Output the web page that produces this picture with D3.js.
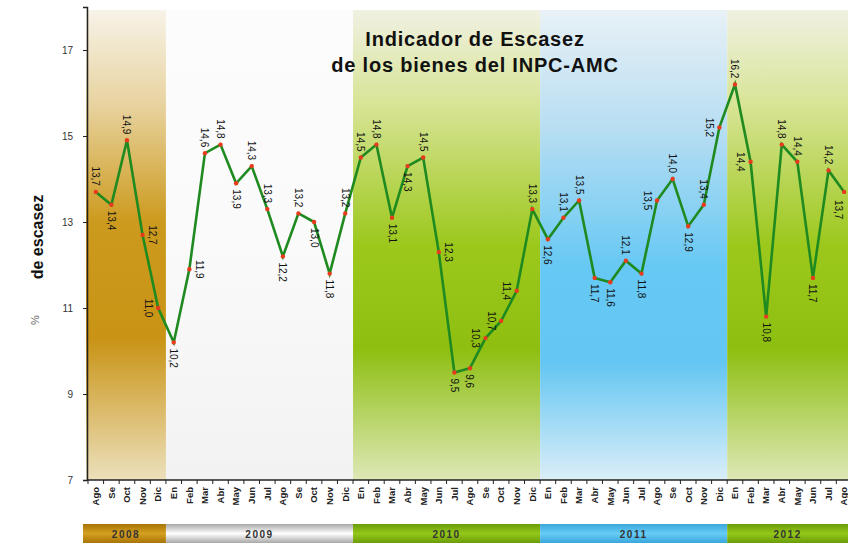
<!DOCTYPE html>
<html>
<head>
<meta charset="utf-8">
<script src="https://cdn.jsdelivr.net/npm/d3@7"></script>
<style>
  body { margin: 0; background: #fff; }
</style>
</head>
<body>
<div id="main"></div>
<script>
// months shown on the axis (Ago 2008 .. Ago 2012)
var months = ["Ago","Se","Oct","Nov","Dic",
  "En","Feb","Mar","Abr","May","Jun","Jul","Ago","Se","Oct","Nov","Dic",
  "En","Feb","Mar","Abr","May","Jun","Jul","Ago","Se","Oct","Nov","Dic",
  "En","Feb","Mar","Abr","May","Jun","Jul","Ago","Se","Oct","Nov","Dic",
  "En","Feb","Mar","Abr","May","Jun","Jul","Ago"];
var monthYear = [2008,2008,2008,2008,2008,
  2009,2009,2009,2009,2009,2009,2009,2009,2009,2009,2009,2009,
  2010,2010,2010,2010,2010,2010,2010,2010,2010,2010,2010,2010,
  2011,2011,2011,2011,2011,2011,2011,2011,2011,2011,2011,2011,
  2012,2012,2012,2012,2012,2012,2012,2012];
var escasez = [13.7,13.4,14.9,12.7,11.0,
  10.2,11.9,14.6,14.8,13.9,14.3,13.3,12.2,13.2,13.0,11.8,13.2,
  14.5,14.8,13.1,14.3,14.5,12.3,9.5,9.6,10.3,10.7,11.4,13.3,
  12.6,13.1,13.5,11.7,11.6,12.1,11.8,13.5,14.0,12.9,13.4,15.2,
  16.2,14.4,10.8,14.8,14.4,11.7,14.2,13.7];
// where each value label sits: a above, b below, l left, r right, B below-left
var labelPos = ["a","b","a","r","l",
  "b","r","a","a","b","a","a","b","a","b","b","a",
  "a","a","b","b","a","r","b","b","l","l","l","a",
  "b","a","a","b","b","a","b","l","a","b","a","l",
  "a","l","b","a","a","b","a","B"];
var years = [2008,2009,2010,2011,2012];
var yTicks = [7,9,11,13,15,17];

var W = 848, H = 548;
var svg = d3.select("#main").append("svg")
  .attr("width", W).attr("height", H)
  .attr("font-family", "Liberation Sans, Arial, sans-serif");

var keys = months.map(function(m, i){ return m + " " + monthYear[i]; });
var x = d3.scaleBand().domain(keys).range([88, 88 + 49 * 15.59]);
var y = d3.scaleLinear().domain([7, 18]).range([480, 7]);
var cx = function(i){ return x(keys[i]) + x.bandwidth() / 2; };

// year colours
var yearCol = {
  2008: [["0","#f7f3e8"],["0.2","#e8d3a0"],["0.45","#cc9a1e"],["0.7","#c99416"],["1","#ece0bc"]],
  2009: [["0","#fcfcfc"],["0.5","#fafafa"],["1","#f2f2f2"]],
  2010: [["0","#f0f1e2"],["0.2","#d8e496"],["0.5","#9cc81c"],["0.72","#8ebf10"],["1","#dde8b6"]],
  2011: [["0","#e8f1f6"],["0.25","#b8def2"],["0.55","#66c8f4"],["0.75","#64c6f2"],["1","#dbeef8"]],
  2012: [["0","#f0f1e2"],["0.2","#d8e496"],["0.5","#9cc81c"],["0.72","#8ebf10"],["1","#dde8b6"]]
};
var bandCol = {
  2008: ["#a87406","#d4a020","#a87406"],
  2009: ["#a8a8a8","#ffffff","#a8a8a8"],
  2010: ["#6a9c08","#94c81a","#6a9c08"],
  2011: ["#3aa6da","#66ccf6","#3aa6da"],
  2012: ["#6a9c08","#94c81a","#6a9c08"]
};
var defs = svg.append("defs");
years.forEach(function(yr){
  var g = defs.append("linearGradient").attr("id", "bg" + yr)
    .attr("x1", 0).attr("y1", 0).attr("x2", 0).attr("y2", 1);
  yearCol[yr].forEach(function(s){
    g.append("stop").attr("offset", s[0]).attr("stop-color", s[1]);
  });
  var b = defs.append("linearGradient").attr("id", "band" + yr)
    .attr("x1", 0).attr("y1", 0).attr("x2", 0).attr("y2", 1);
  b.append("stop").attr("offset", 0).attr("stop-color", bandCol[yr][0]);
  b.append("stop").attr("offset", 0.5).attr("stop-color", bandCol[yr][1]);
  b.append("stop").attr("offset", 1).attr("stop-color", bandCol[yr][2]);
});

function yearStart(yr){
  var i = monthYear.indexOf(yr);
  return i === 0 ? 86 : x(keys[i]);
}
function yearEnd(yr){
  var i = monthYear.lastIndexOf(yr);
  return i === keys.length - 1 ? W : x(keys[i]) + x.bandwidth();
}

// plot backgrounds
svg.selectAll("rect.bg").data(years).enter().append("rect")
  .attr("class", "bg")
  .attr("x", function(d){ return yearStart(d); })
  .attr("y", 10)
  .attr("width", function(d){ return yearEnd(d) - yearStart(d); })
  .attr("height", 470)
  .attr("fill", function(d){ return "url(#bg" + d + ")"; });

// year strip at the bottom
svg.selectAll("rect.band").data(years).enter().append("rect")
  .attr("class", "band")
  .attr("x", function(d){ return d === 2008 ? 83 : yearStart(d); })
  .attr("y", 524)
  .attr("width", function(d){ return yearEnd(d) - (d === 2008 ? 83 : yearStart(d)); })
  .attr("height", 19)
  .attr("fill", function(d){ return "url(#band" + d + ")"; });
svg.selectAll("text.year").data(years).enter().append("text")
  .attr("class", "year")
  .attr("x", function(d){ return (Math.max(yearStart(d), 83) + yearEnd(d)) / 2; })
  .attr("y", 537.5)
  .attr("text-anchor", "middle")
  .attr("font-size", "10px")
  .attr("font-weight", "bold")
  .attr("letter-spacing", "1.5px")
  .attr("fill", "#333")
  .text(function(d){ return d; });

// y axis
var yAxis = svg.append("g").attr("transform", "translate(87,0)")
  .call(d3.axisLeft(y).tickValues(yTicks).tickSize(4).tickPadding(10)
    .tickFormat(d3.format("d")));
yAxis.select(".domain").attr("stroke", "#222").attr("stroke-width", 1.5);
yAxis.selectAll(".tick line").attr("stroke", "#222");
yAxis.selectAll(".tick text").attr("font-size", "10px").attr("fill", "#333")
  .attr("font-family", "Liberation Sans Narrow, Liberation Sans, sans-serif");

// x axis (ticks between months)
var xg = svg.append("g").attr("transform", "translate(0,480)");
xg.append("line").attr("x1", 87).attr("x2", W).attr("stroke", "#222").attr("stroke-width", 1.5);
xg.selectAll("line.tk").data(keys).enter().append("line")
  .attr("class", "tk")
  .attr("x1", function(d){ return x(d); }).attr("x2", function(d){ return x(d); })
  .attr("y1", 0).attr("y2", 4).attr("stroke", "#222");
xg.selectAll("text").data(keys).enter().append("text")
  .attr("transform", function(d){ return "translate(" + (x(d) + x.bandwidth() / 2) + ",7) rotate(-90)"; })
  .attr("dy", "0.35em")
  .attr("text-anchor", "end")
  .attr("font-size", "9.5px")
  .attr("font-weight", "bold")
  .attr("fill", "#222")
  .text(function(d, i){ return months[i]; });

// line + markers
var line = d3.line().x(function(d, i){ return cx(i); }).y(function(d){ return y(d); });
svg.append("path").datum(escasez)
  .attr("d", line).attr("fill", "none")
  .attr("stroke", "#1f8a1f").attr("stroke-width", 2.6);
svg.selectAll("circle.pt").data(escasez).enter().append("circle")
  .attr("class", "pt")
  .attr("cx", function(d, i){ return cx(i); })
  .attr("cy", function(d){ return y(d); })
  .attr("r", 2.2).attr("fill", "#e83a1c");

// value labels
var fmt = function(v){ return v.toFixed(1).replace(".", ","); };
svg.selectAll("text.val").data(escasez).enter().append("text")
  .attr("class", "val")
  .attr("transform", function(d, i){
    var px = cx(i), py = y(d), p = labelPos[i];
    if (p === "a") py -= 6;
    if (p === "b") py += 6;
    if (p === "B") { py += 8; px -= 6; }
    if (p === "l") px -= 10;
    if (p === "r") px += 10;
    return "translate(" + px + "," + py + ") rotate(90)";
  })
  .attr("dy", "0.35em")
  .attr("text-anchor", function(d, i){
    var p = labelPos[i];
    return p === "a" ? "end" : (p === "b" || p === "B") ? "start" : "middle";
  })
  .attr("font-size", "10px")
  .attr("fill", "#111")
  .text(fmt);

// title
var title = svg.append("text").attr("text-anchor", "middle")
  .attr("font-weight", "bold").attr("font-size", "20px")
  .attr("letter-spacing", "0.8px").attr("fill", "#111");
title.append("tspan").attr("x", 475).attr("y", 46).text("Indicador de Escasez");
title.append("tspan").attr("x", 475).attr("y", 72).text("de los bienes del INPC-AMC");

// y title
svg.append("text")
  .attr("transform", "translate(43,237) rotate(-90)")
  .attr("text-anchor", "middle")
  .attr("font-size", "16px").attr("font-weight", "bold").attr("fill", "#111")
  .text("de escasez");
svg.append("text")
  .attr("transform", "translate(39,320) rotate(-90)")
  .attr("text-anchor", "middle")
  .attr("font-size", "11px").attr("fill", "#666")
  .text("%");
</script>
</body>
</html>
